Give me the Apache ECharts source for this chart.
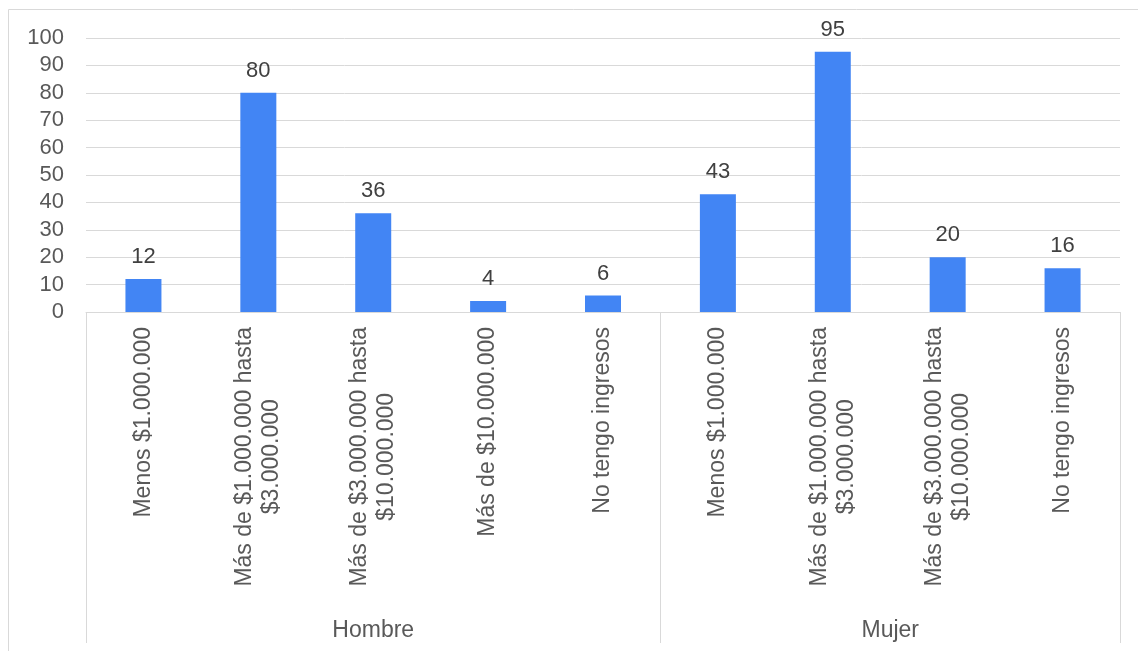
<!doctype html>
<html>
<head>
    <title>Ingresos por sexo</title>
    <script src="https://cdn.jsdelivr.net/npm/echarts@6/dist/echarts.min.js"></script>
</head>
<style>
    html, body {
        margin: 0;
        padding: 0;
        background: #fff;
    }
    #chart {
        width: 1138px;
        height: 651px;
    }
</style>
<body>
<div id="chart"></div>
<script>
  var categories = [
    'Menos $1.000.000',
    'Más de $1.000.000 hasta\n$3.000.000',
    'Más de $3.000.000 hasta\n$10.000.000',
    'Más de $10.000.000',
    'No tengo ingresos',
    'Menos $1.000.000',
    'Más de $1.000.000 hasta\n$3.000.000',
    'Más de $3.000.000 hasta\n$10.000.000',
    'No tengo ingresos'
  ];
  var values = [12, 80, 36, 4, 6, 43, 95, 20, 16];
  var groups = ['Hombre', 'Mujer'];
  var groupSizes = [5, 4];

  // second-level axis: one point per half category, labels at group centres
  var groupAxis = [];
  var boundaries = [];
  for (var i = 0; i <= categories.length * 2; i++) groupAxis.push('');
  var start = 0;
  groups.forEach(function (g, k) {
    groupAxis[start * 2 + groupSizes[k]] = g;
    boundaries.push(start * 2);
    start += groupSizes[k];
  });
  boundaries.push(start * 2);

  var myChart = echarts.init(document.getElementById('chart'));
  var gridLine = '#d9d9d9';

  var option = {
    animation: false,
    textStyle: { fontFamily: 'Liberation Sans, Arial, sans-serif' },
    graphic: [{
      type: 'rect',
      shape: { x: 8.5, y: 9.5, width: 1140, height: 660 },
      style: { fill: 'none', stroke: gridLine, lineWidth: 1 },
      silent: true
    }],
    grid: [
      { left: 86, right: 18, top: 38, bottom: 339 },
      { left: 86, right: 18, top: 312, bottom: 8 }
    ],
    xAxis: [
      {
        type: 'category',
        gridIndex: 0,
        data: categories,
        axisTick: { show: false },
        axisLine: { lineStyle: { color: gridLine } },
        axisLabel: {
          interval: 0,
          rotate: 90,
          margin: 15,
          fontSize: 23,
          lineHeight: 27,
          color: '#595959',
          // each line centred inside the label block
          formatter: function (v) {
            return v.split('\n').map(function (l) { return '{c|' + l + '}'; }).join('\n');
          },
          rich: {
            c: { align: 'center', fontSize: 23, lineHeight: 27, color: '#595959' }
          }
        }
      },
      {
        type: 'category',
        gridIndex: 1,
        data: groupAxis,
        boundaryGap: false,
        axisLine: { show: false },
        axisTick: { show: false },
        axisLabel: {
          interval: 0,
          inside: true,
          margin: 1,
          fontSize: 23,
          color: '#595959'
        },
        splitLine: {
          show: true,
          interval: function (index) { return boundaries.indexOf(index) >= 0; },
          lineStyle: { color: gridLine }
        }
      }
    ],
    yAxis: [
      {
        type: 'value',
        gridIndex: 0,
        min: 0,
        max: 100,
        interval: 10,
        axisLine: { show: false },
        axisTick: { show: false },
        axisLabel: { fontSize: 22, color: '#595959', margin: 22 },
        splitLine: { lineStyle: { color: gridLine } }
      },
      {
        type: 'value',
        gridIndex: 1,
        show: false
      }
    ],
    series: [{
      type: 'bar',
      xAxisIndex: 0,
      yAxisIndex: 0,
      data: values,
      barWidth: 36,
      itemStyle: { color: '#4285f4' },
      label: {
        show: true,
        position: 'top',
        distance: 11,
        fontSize: 22,
        color: '#404040'
      }
    }]
  };

  myChart.setOption(option);
</script>
</body>
</html>
